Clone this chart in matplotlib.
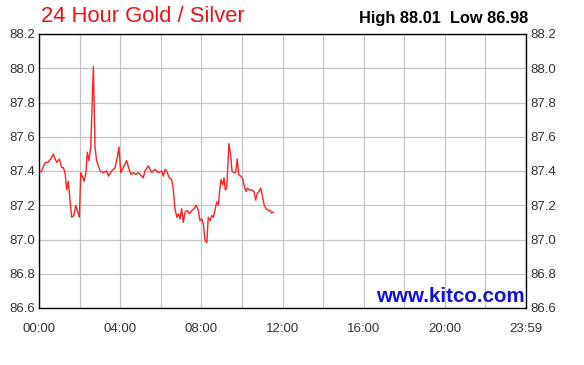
import matplotlib.pyplot as plt
from matplotlib.ticker import MultipleLocator

plt.rcParams['font.family'] = ['Liberation Sans', 'DejaVu Sans']

# hours since 00:00 and gold/silver ratio
hours = [0.00, 0.13, 0.30, 0.44, 0.63, 0.70, 0.87, 1.00, 1.12, 1.20, 1.28, 1.37, 1.44,
         1.53, 1.61, 1.72, 1.81, 1.91, 1.99, 2.06, 2.13, 2.23, 2.32, 2.38, 2.46, 2.55,
         2.68, 2.76, 2.84, 3.01, 3.17, 3.34, 3.42, 3.58, 3.75, 3.86, 3.94, 4.03, 4.15,
         4.32, 4.44, 4.53, 4.65, 4.78, 4.89, 4.98, 5.14, 5.22, 5.39, 5.55, 5.72, 5.88,
         6.05, 6.13, 6.21, 6.29, 6.42, 6.54, 6.62, 6.70, 6.79, 6.87, 6.95, 7.03, 7.11,
         7.20, 7.31, 7.41, 7.53, 7.64, 7.74, 7.85, 7.93, 8.02, 8.10, 8.18, 8.27, 8.34,
         8.43, 8.51, 8.59, 8.67, 8.76, 8.84, 8.89, 8.97, 9.05, 9.12, 9.18, 9.25, 9.30,
         9.36, 9.45, 9.51, 9.61, 9.69, 9.77, 9.84, 9.94, 10.02, 10.10, 10.20, 10.27,
         10.36, 10.48, 10.60, 10.68, 10.76, 10.84, 10.93, 11.03, 11.10, 11.19, 11.30,
         11.38, 11.47, 11.55]
ratio = [87.39, 87.40, 87.45, 87.45, 87.48, 87.50, 87.45, 87.47, 87.42, 87.42, 87.39, 87.29, 87.34,
         87.23, 87.13, 87.14, 87.20, 87.16, 87.13, 87.39, 87.37, 87.34, 87.40, 87.51, 87.46, 87.54,
         88.01, 87.54, 87.46, 87.40, 87.39, 87.40, 87.37, 87.40, 87.42, 87.48, 87.54, 87.39, 87.42,
         87.46, 87.41, 87.38, 87.39, 87.38, 87.39, 87.38, 87.36, 87.40, 87.43, 87.39, 87.41, 87.39,
         87.40, 87.37, 87.41, 87.40, 87.36, 87.35, 87.29, 87.18, 87.13, 87.15, 87.12, 87.18, 87.10,
         87.16, 87.17, 87.15, 87.17, 87.18, 87.20, 87.17, 87.11, 87.12, 87.09, 87.00, 86.98, 87.13,
         87.11, 87.14, 87.13, 87.17, 87.22, 87.20, 87.27, 87.35, 87.32, 87.36, 87.29, 87.30, 87.42,
         87.56, 87.49, 87.40, 87.39, 87.39, 87.47, 87.38, 87.37, 87.36, 87.32, 87.28, 87.30,
         87.29, 87.29, 87.28, 87.23, 87.27, 87.28, 87.30, 87.24, 87.20, 87.18, 87.17,
         87.17, 87.155, 87.16]

xtick_pos = [0, 4, 8, 12, 16, 20, 24]
xtick_labels = ['00:00', '04:00', '08:00', '12:00', '16:00', '20:00', '23:59']
yticks = [86.6, 86.8, 87.0, 87.2, 87.4, 87.6, 87.8, 88.0, 88.2]

fig = plt.figure(figsize=(5.84, 3.65), dpi=100)
ax = fig.add_axes([39 / 584, 57 / 365, 487 / 584, 274 / 365])

ax.plot(hours, ratio, color='#ff2020', lw=1.0)

ax.set_xlim(0, 24)
ax.set_ylim(86.6, 88.2)
ax.set_xticks(xtick_pos)
ax.set_xticklabels(xtick_labels)
ax.xaxis.set_minor_locator(MultipleLocator(2))
ax.set_yticks(yticks)
ax.set_yticklabels([f'{v:.1f}' for v in yticks])
ax.grid(True, which='both', color='#c4c4c4', lw=0.9)
ax.set_axisbelow(True)
ax.tick_params(which='both', length=0, labelsize=9.5, colors='#333333', pad=3)
ax.tick_params(axis='y', labelright=True, right=True)
ax.tick_params(axis='x', pad=11)
for s in ax.spines.values():
    s.set_color('black')
    s.set_linewidth(1.0)

fig.text(41 / 584, 1 - 17 / 365, '24 Hour Gold / Silver', color='#ee1111',
         fontsize=15.8, ha='left', va='center')
fig.text(528 / 584, 1 - 18 / 365, 'High 88.01  Low 86.98', color='black',
         fontsize=11.8, fontweight='bold', ha='right', va='center')
ax.text(0.997, 0.008, 'www.kitco.com', transform=ax.transAxes, color='#1010dd',
        fontsize=14.8, fontweight='bold', ha='right', va='bottom')

plt.savefig('out.png', dpi=100)
